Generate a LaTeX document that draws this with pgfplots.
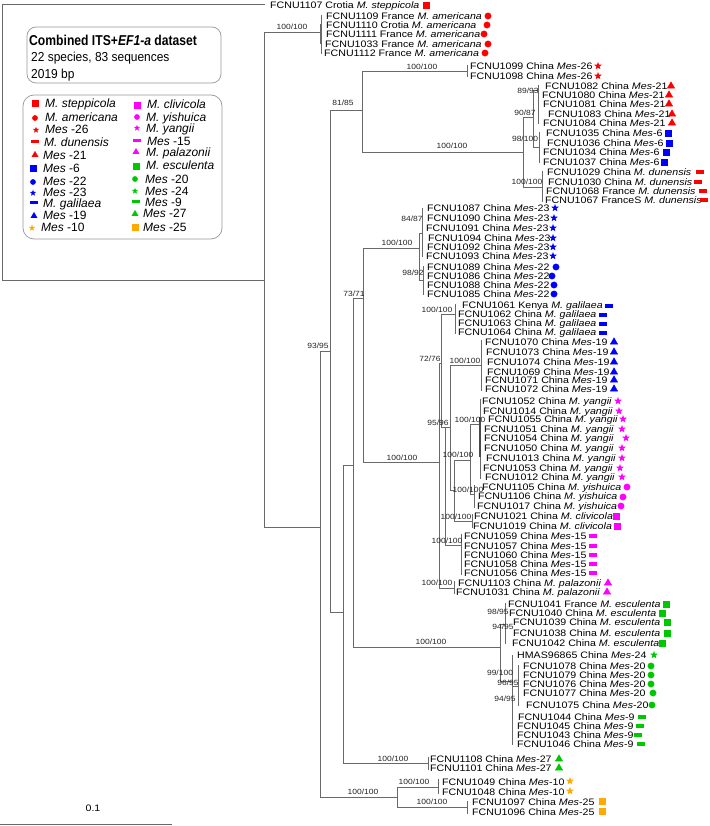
\documentclass[border=0pt]{standalone}
\usepackage{pgfplots}
\pgfplotsset{compat=1.18}
\usepackage{fontspec}
\setmainfont{Liberation Sans}
\newfontfamily\leaffam[FakeStretch=1.13]{Liberation Sans}
\newfontfamily\titlefam[FakeStretch=0.85]{Liberation Sans}
\newfontfamily\subfam[FakeStretch=0.92]{Liberation Sans}

\definecolor{cR}{RGB}{255,0,0}
\definecolor{cB}{RGB}{0,0,255}
\definecolor{cM}{RGB}{255,0,255}
\definecolor{cG}{RGB}{0,200,0}
\definecolor{cO}{RGB}{255,170,0}
\definecolor{ln}{RGB}{105,105,105}
\definecolor{bsc}{RGB}{35,35,35}
\definecolor{boxc}{RGB}{150,150,150}

\newdimen\starin
\pgfdeclareplotmark{fstar}{%
  \starin=0.42\pgfplotmarksize
  \pgfpathmoveto{\pgfqpointpolar{90}{\pgfplotmarksize}}%
  \pgfpathlineto{\pgfqpointpolar{126}{\starin}}%
  \pgfpathlineto{\pgfqpointpolar{162}{\pgfplotmarksize}}%
  \pgfpathlineto{\pgfqpointpolar{198}{\starin}}%
  \pgfpathlineto{\pgfqpointpolar{234}{\pgfplotmarksize}}%
  \pgfpathlineto{\pgfqpointpolar{270}{\starin}}%
  \pgfpathlineto{\pgfqpointpolar{306}{\pgfplotmarksize}}%
  \pgfpathlineto{\pgfqpointpolar{342}{\starin}}%
  \pgfpathlineto{\pgfqpointpolar{18}{\pgfplotmarksize}}%
  \pgfpathlineto{\pgfqpointpolar{54}{\starin}}%
  \pgfpathclose\pgfusepathqfill}
\pgfdeclareplotmark{hbar}{%
  \pgfpathrectangle{\pgfpoint{-1.25\pgfplotmarksize}{-0.5\pgfplotmarksize}}{\pgfpoint{2.5\pgfplotmarksize}{\pgfplotmarksize}}%
  \pgfusepathqfill}

\pgfplotsset{
  tree/.style={ln, line width=0.75pt, no markers, unbounded coords=jump},
  sq/.style={only marks, mark=square*, mark size=3.2pt, color=#1},
  ci/.style={only marks, mark=*, mark size=3.2pt, color=#1},
  st/.style={only marks, mark=fstar, mark size=4pt, color=#1},
  tr/.style={only marks, mark=triangle*, mark size=4.2pt, color=#1},
  br/.style={only marks, mark=hbar, mark size=3.2pt, color=#1},
}

\newcommand{\leaffont}{\leaffam\fontsize{9.4}{9.4}\selectfont}
\newcommand{\bsfont}{\leaffam\fontsize{7.5}{7.5}\selectfont}
\newcommand{\legfont}{\fontsize{12}{12}\selectfont}
\newcommand{\leaf}[4]{\node[anchor=west,inner sep=0pt,font=\leaffont,text height=6.7pt,text depth=0pt] at (axis cs:#1,#2) {#3 #4};}
\newcommand{\bs}[3]{\node[inner sep=0pt,font=\bsfont,text=bsc,text height=5.3pt,text depth=0pt] at (axis cs:#1,#2) {#3};}
\newcommand{\legtxt}[3]{\node[anchor=west,inner sep=0pt,font=\legfont,text height=8.6pt,text depth=0pt] at (axis cs:#1,#2) {#3};}

\begin{document}
\begin{tikzpicture}
\begin{axis}[x=1pt, y=1pt, y dir=reverse, xmin=0, xmax=709, ymin=0, ymax=826,
  hide axis, clip=false]
\coordinate (BL) at (axis cs:0,826);
\coordinate (TR) at (axis cs:709,0);

% ---------- tree ----------
\addplot[tree] table[row sep=\\]{
x y\\
265 4.5\\ 2 4.5\\ 2 280\\ 264 280\\ nan nan\\
321 32\\ 264 32\\ 264 527\\ 320 527\\ nan nan\\
321 15\\ 321 54\\ nan nan\\
330 351\\ 320 351\\ 320 797\\ 397 797\\ nan nan\\
362 110\\ 330 110\\ 330 612\\ 343 612\\ nan nan\\
467 71\\ 362 71\\ 362 152\\ 523 152\\ nan nan\\
467 65\\ 467 77\\ nan nan\\
533 117\\ 523 117\\ 523 187\\ 542 187\\ nan nan\\
538 90\\ 533 90\\ 533 147\\ 539 147\\ nan nan\\
538 85\\ 538 124\\ nan nan\\
539 132\\ 539 163\\ nan nan\\
542 171\\ 542 202\\ nan nan\\
353 465\\ 343 465\\ 343 763\\ 428 763\\ nan nan\\
428 757\\ 428 770\\ nan nan\\
363 298\\ 353 298\\ 353 647\\ 500 647\\ nan nan\\
505 624\\ 500 624\\ 500 681\\ 512 681\\ nan nan\\
505 603\\ 505 644\\ nan nan\\
512 655\\ 512 745\\ nan nan\\
512 686\\ 518 686\\ nan nan\\
518 665\\ 518 706\\ nan nan\\
419 248\\ 363 248\\ 363 462\\ 439 462\\ nan nan\\
422 233\\ 419 233\\ 419 280\\ 423 280\\ nan nan\\
422 208\\ 422 257\\ nan nan\\
423 266\\ 423 295\\ nan nan\\
441 363\\ 439 363\\ 439 588\\ 454 588\\ nan nan\\
454 581\\ 454 594\\ nan nan\\
455 314\\ 441 314\\ 441 427\\ 450 427\\ nan nan\\
455 304\\ 455 334\\ nan nan\\
445 427\\ 445 545\\ 461 545\\ nan nan\\
461 534\\ 461 575\\ nan nan\\
481 365\\ 450 365\\ 450 490\\ 454 490\\ nan nan\\
481 340\\ 481 391\\ nan nan\\
470 460\\ 454 460\\ 454 521\\ 472 521\\ nan nan\\
472 514\\ 472 528\\ nan nan\\
480 424\\ 470 424\\ 470 494\\ 474 494\\ nan nan\\
480 399\\ 480 479\\ nan nan\\
474 485\\ 474 508\\ nan nan\\
438 787\\ 397 787\\ 397 807\\ 467 807\\ nan nan\\
438 779\\ 438 794\\ nan nan\\
467 801\\ 467 814\\ nan nan\\
0 824\\ 172 824\\
};
\addplot[ln!70!black, line width=2pt, no markers] coordinates {(480,417) (480,457)};
\addplot[ln, line width=1.6pt, no markers] coordinates {(321,24) (321,44)};

% ---------- leaf markers ----------
\addplot[sq=cR] coordinates {(426,5)};
\addplot[ci=cR] coordinates {(488,16) (487,25) (484,34) (488,44) (485,53)};
\addplot[st=cR] coordinates {(598,66) (598,76)};
\addplot[tr=cR] coordinates {(671,86) (669,95) (669,104) (672,114) (672,123)};
\addplot[sq=cB] coordinates {(668,133) (669,143) (666,152) (664,162)};
\addplot[br=cR] coordinates {(700,172) (698,182) (703,191) (704,200)};
\addplot[st=cB] coordinates {(555,208) (554,218) (553,228) (553,238) (553,247) (553,256)};
\addplot[ci=cB] coordinates {(556,267) (552,276) (554,285) (554,294)};
\addplot[br=cB] coordinates {(609,306) (603,315) (603,324) (603,333)};
\addplot[tr=cB] coordinates {(614,342) (614,352) (614,362) (614,372) (614,380) (614,389)};
\addplot[st=cM] coordinates {(618,401) (619,411) (623,419) (622,429) (626,438) (622,448) (622,458) (620,468) (622,477)};
\addplot[ci=cM] coordinates {(627,487) (623,497) (621,506)};
\addplot[sq=cM] coordinates {(616,516) (617,526)};
\addplot[br=cM] coordinates {(593,536) (593,546) (593,555) (593,564) (593,573)};
\addplot[tr=cM] coordinates {(608,583) (607,592)};
\addplot[sq=cG] coordinates {(666,604) (662,613) (667,622) (667,633) (662,643)};
\addplot[st=cG] coordinates {(654,655)};
\addplot[ci=cG] coordinates {(651,666) (651,675) (651,684) (653,693) (652,705)};
\addplot[br=cG] coordinates {(642,717) (640,726) (638,735) (641,744)};
\addplot[tr=cG] coordinates {(559,759) (559,768)};
\addplot[st=cO] coordinates {(570,781) (570,791)};
\addplot[sq=cO] coordinates {(602,801) (602,811)};

% ---------- legend markers ----------
\addplot[sq=cR, mark size=2.8pt] coordinates {(35,103)};
\addplot[ci=cR, mark size=2.6pt] coordinates {(35,118)};
\addplot[st=cR, mark size=3.3pt] coordinates {(36,130)};
\addplot[br=cR, mark size=3pt] coordinates {(35,142)};
\addplot[tr=cR, mark size=3.6pt] coordinates {(35,155)};
\addplot[sq=cB, mark size=2.8pt] coordinates {(33,168)};
\addplot[ci=cB, mark size=2.6pt] coordinates {(33,182)};
\addplot[st=cB, mark size=3.3pt] coordinates {(33,193)};
\addplot[br=cB, mark size=3pt] coordinates {(34,203)};
\addplot[tr=cB, mark size=3.6pt] coordinates {(34,216)};
\addplot[st=cO, mark size=3.3pt] coordinates {(32,228)};
\addplot[sq=cM, mark size=2.8pt] coordinates {(137,105)};
\addplot[ci=cM, mark size=2.6pt] coordinates {(137,117)};
\addplot[st=cM, mark size=3.3pt] coordinates {(137,128)};
\addplot[br=cM, mark size=3pt] coordinates {(137,141)};
\addplot[tr=cM, mark size=3.6pt] coordinates {(136,152)};
\addplot[sq=cG, mark size=2.8pt] coordinates {(136,166)};
\addplot[ci=cG, mark size=2.6pt] coordinates {(135,179)};
\addplot[st=cG, mark size=3.3pt] coordinates {(135,191)};
\addplot[br=cG, mark size=3pt] coordinates {(136,202)};
\addplot[tr=cG, mark size=3.6pt] coordinates {(135,214)};
\addplot[sq=cO, mark size=2.8pt] coordinates {(135,227)};

% ---------- legend boxes and text ----------
\draw[boxc, line width=0.7pt, rounded corners=9pt] (axis cs:27,27) rectangle (axis cs:221,83);
\draw[boxc, line width=0.7pt, rounded corners=11pt] (axis cs:23,95) rectangle (axis cs:222,239);
\node[anchor=west,inner sep=0pt,text height=10pt,text depth=0pt] at (axis cs:29,41) {\titlefam\bfseries\fontsize{14.3}{14.3}\selectfont Combined ITS+\textit{EF1-a} dataset};
\node[anchor=west,inner sep=0pt,text height=9.3pt,text depth=0pt] at (axis cs:31,57) {\subfam\fontsize{13}{13}\selectfont 22 species, 83 sequences};
\node[anchor=west,inner sep=0pt,text height=9.3pt,text depth=0pt] at (axis cs:31,74) {\subfam\fontsize{13}{13}\selectfont 2019 bp};

\legtxt{45}{103}{\textit{M. steppicola}}
\legtxt{45}{117}{\textit{M. americana}}
\legtxt{45}{129}{\textit{Mes} -26}
\legtxt{44}{142}{\textit{M. dunensis}}
\legtxt{43}{155}{\textit{Mes} -21}
\legtxt{43}{168}{\textit{Mes} -6}
\legtxt{43}{181}{\textit{Mes} -22}
\legtxt{43}{192}{\textit{Mes} -23}
\legtxt{43}{203}{\textit{M. galilaea}}
\legtxt{43}{215}{\textit{Mes} -19}
\legtxt{41}{227}{\textit{Mes} -10}
\legtxt{147}{104}{\textit{M. clivicola}}
\legtxt{146}{117}{\textit{M. yishuica}}
\legtxt{146}{128}{\textit{M. yangii}}
\legtxt{147}{141}{\textit{Mes} -15}
\legtxt{146}{152}{\textit{M. palazonii}}
\legtxt{146}{165}{\textit{M. esculenta}}
\legtxt{145}{179}{\textit{Mes} -20}
\legtxt{145}{191}{\textit{Mes} -24}
\legtxt{145}{202}{\textit{Mes} -9}
\legtxt{143}{213}{\textit{Mes} -27}
\legtxt{143}{227}{\textit{Mes} -25}

% ---------- scale ----------
\node[inner sep=0pt,font=\leaffont,text height=6.7pt,text depth=0pt] at (axis cs:93,808) {0.1};

% ---------- bootstrap values ----------
\bs{292}{27}{100/100}
\bs{422}{67}{100/100}
\bs{343}{103}{81/85}
\bs{452}{146}{100/100}
\bs{528}{91}{89/93}
\bs{525}{113}{90/87}
\bs{525}{139}{98/100}
\bs{527}{182}{100/100}
\bs{412}{219}{84/87}
\bs{413}{273}{98/92}
\bs{397}{243}{100/100}
\bs{354}{294}{73/71}
\bs{318}{346}{93/95}
\bs{437}{310}{100/100}
\bs{430}{359}{72/76}
\bs{465}{361}{100/100}
\bs{438}{423}{95/96}
\bs{470}{420}{100/100}
\bs{458}{455}{100/100}
\bs{468}{490}{100/100}
\bs{456}{517}{100/100}
\bs{447}{541}{100/100}
\bs{437}{583}{100/100}
\bs{402}{458}{100/100}
\bs{431}{642}{100/100}
\bs{498}{612}{98/95}
\bs{503}{627}{94/95}
\bs{500}{673}{99/100}
\bs{508}{683}{96/95}
\bs{505}{699}{94/95}
\bs{393}{759}{100/100}
\bs{363}{792}{100/100}
\bs{414}{782}{100/100}
\bs{432}{802}{100/100}

% ---------- leaves ----------
\leaf{270}{5}{FCNU1107 Crotia}{\textit{M. steppicola}}
\leaf{326}{15.7}{FCNU1109 France}{\textit{M. americana}}
\leaf{326}{25.3}{FCNU1110 Crotia}{\textit{M. americana}}
\leaf{326}{34.3}{FCNU1111 France}{\textit{M. americana}}
\leaf{325}{43.7}{FCNU1033 France}{\textit{M. americana}}
\leaf{324}{53.3}{FCNU1112 France}{\textit{M. americana}}
\leaf{470}{66}{FCNU1099 China}{\textit{Mes}-26}
\leaf{470}{76}{FCNU1098 China}{\textit{Mes}-26}
\leaf{545}{86}{FCNU1082 China}{\textit{Mes}-21}
\leaf{542}{95}{FCNU1080 China}{\textit{Mes}-21}
\leaf{543}{104}{FCNU1081 China}{\textit{Mes}-21}
\leaf{548}{114}{FCNU1083 China}{\textit{Mes}-21}
\leaf{543}{123}{FCNU1084 China}{\textit{Mes}-21}
\leaf{546}{133}{FCNU1035 China}{\textit{Mes}-6}
\leaf{547}{143}{FCNU1036 China}{\textit{Mes}-6}
\leaf{543}{152}{FCNU1034 China}{\textit{Mes}-6}
\leaf{543}{162}{FCNU1037 China}{\textit{Mes}-6}
\leaf{547}{172}{FCNU1029 China}{\textit{M. dunensis}}
\leaf{548}{182}{FCNU1030 China}{\textit{M. dunensis}}
\leaf{546}{191}{FCNU1068 France}{\textit{M. dunensis}}
\leaf{545}{200}{FCNU1067 FranceS}{\textit{M. dunensis}}
\leaf{427}{208}{FCNU1087 China}{\textit{Mes}-23}
\leaf{427}{218}{FCNU1090 China}{\textit{Mes}-23}
\leaf{426}{228}{FCNU1091 China}{\textit{Mes}-23}
\leaf{428}{238}{FCNU1094 China}{\textit{Mes}-23}
\leaf{427}{247}{FCNU1092 China}{\textit{Mes}-23}
\leaf{426}{256}{FCNU1093 China}{\textit{Mes}-23}
\leaf{427}{267}{FCNU1089 China}{\textit{Mes}-22}
\leaf{427}{276}{FCNU1086 China}{\textit{Mes}-22}
\leaf{427}{285}{FCNU1088 China}{\textit{Mes}-22}
\leaf{427}{294}{FCNU1085 China}{\textit{Mes}-22}
\leaf{462}{305}{FCNU1061 Kenya}{\textit{M. galilaea}}
\leaf{458}{314}{FCNU1062 China}{\textit{M. galilaea}}
\leaf{458}{323}{FCNU1063 China}{\textit{M. galilaea}}
\leaf{458}{332}{FCNU1064 China}{\textit{M. galilaea}}
\leaf{485}{342}{FCNU1070 China}{\textit{Mes}-19}
\leaf{486}{352}{FCNU1073 China}{\textit{Mes}-19}
\leaf{487}{362}{FCNU1074 China}{\textit{Mes}-19}
\leaf{487}{372}{FCNU1069 China}{\textit{Mes}-19}
\leaf{485}{380}{FCNU1071 China}{\textit{Mes}-19}
\leaf{485}{389}{FCNU1072 China}{\textit{Mes}-19}
\leaf{482}{401}{FCNU1052 China}{\textit{M. yangii}}
\leaf{483}{411}{FCNU1014 China}{\textit{M. yangii}}
\leaf{488}{419}{FCNU1055 China}{\textit{M. yangii}}
\leaf{484}{429}{FCNU1051 China}{\textit{M. yangii}}
\leaf{484}{438}{FCNU1054 China}{\textit{M. yangii}}
\leaf{484}{448}{FCNU1050 China}{\textit{M. yangii}}
\leaf{486}{458}{FCNU1013 China}{\textit{M. yangii}}
\leaf{483}{468}{FCNU1053 China}{\textit{M. yangii}}
\leaf{485}{477}{FCNU1012 China}{\textit{M. yangii}}
\leaf{482}{487}{FCNU1105 China}{\textit{M. yishuica}}
\leaf{478}{496}{FCNU1106 China}{\textit{M. yishuica}}
\leaf{477}{506}{FCNU1017 China}{\textit{M. yishuica}}
\leaf{474}{516}{FCNU1021 China}{\textit{M. clivicola}}
\leaf{473}{526}{FCNU1019 China}{\textit{M. clivicola}}
\leaf{464}{536}{FCNU1059 China}{\textit{Mes}-15}
\leaf{464}{546}{FCNU1057 China}{\textit{Mes}-15}
\leaf{464}{555}{FCNU1060 China}{\textit{Mes}-15}
\leaf{464}{564}{FCNU1058 China}{\textit{Mes}-15}
\leaf{464}{573}{FCNU1056 China}{\textit{Mes}-15}
\leaf{458}{583}{FCNU1103 China}{\textit{M. palazonii}}
\leaf{456}{592}{FCNU1031 China}{\textit{M. palazonii}}
\leaf{508}{604}{FCNU1041 France}{\textit{M. esculenta}}
\leaf{509}{613}{FCNU1040 China}{\textit{M. esculenta}}
\leaf{513}{622}{FCNU1039 China}{\textit{M. esculenta}}
\leaf{513}{633}{FCNU1038 China}{\textit{M. esculenta}}
\leaf{512}{643}{FCNU1042 China}{\textit{M. esculenta}}
\leaf{517}{655}{HMAS96865 China}{\textit{Mes}-24}
\leaf{523}{666}{FCNU1078 China}{\textit{Mes}-20}
\leaf{523}{675}{FCNU1079 China}{\textit{Mes}-20}
\leaf{523}{684}{FCNU1076 China}{\textit{Mes}-20}
\leaf{523}{693}{FCNU1077 China}{\textit{Mes}-20}
\leaf{526}{705}{FCNU1075 China}{\textit{Mes}-20}
\leaf{518}{717}{FCNU1044 China}{\textit{Mes}-9}
\leaf{517}{726}{FCNU1045 China}{\textit{Mes}-9}
\leaf{517}{735}{FCNU1043 China}{\textit{Mes}-9}
\leaf{517}{744}{FCNU1046 China}{\textit{Mes}-9}
\leaf{430}{759}{FCNU1108 China}{\textit{Mes}-27}
\leaf{430}{768}{FCNU1101 China}{\textit{Mes}-27}
\leaf{442}{782}{FCNU1049 China}{\textit{Mes}-10}
\leaf{442}{792}{FCNU1048 China}{\textit{Mes}-10}
\leaf{472}{802}{FCNU1097 China}{\textit{Mes}-25}
\leaf{472}{812}{FCNU1096 China}{\textit{Mes}-25}
\end{axis}
\pgfresetboundingbox
\path[use as bounding box] (BL) rectangle (TR);
\end{tikzpicture}
\end{document}
